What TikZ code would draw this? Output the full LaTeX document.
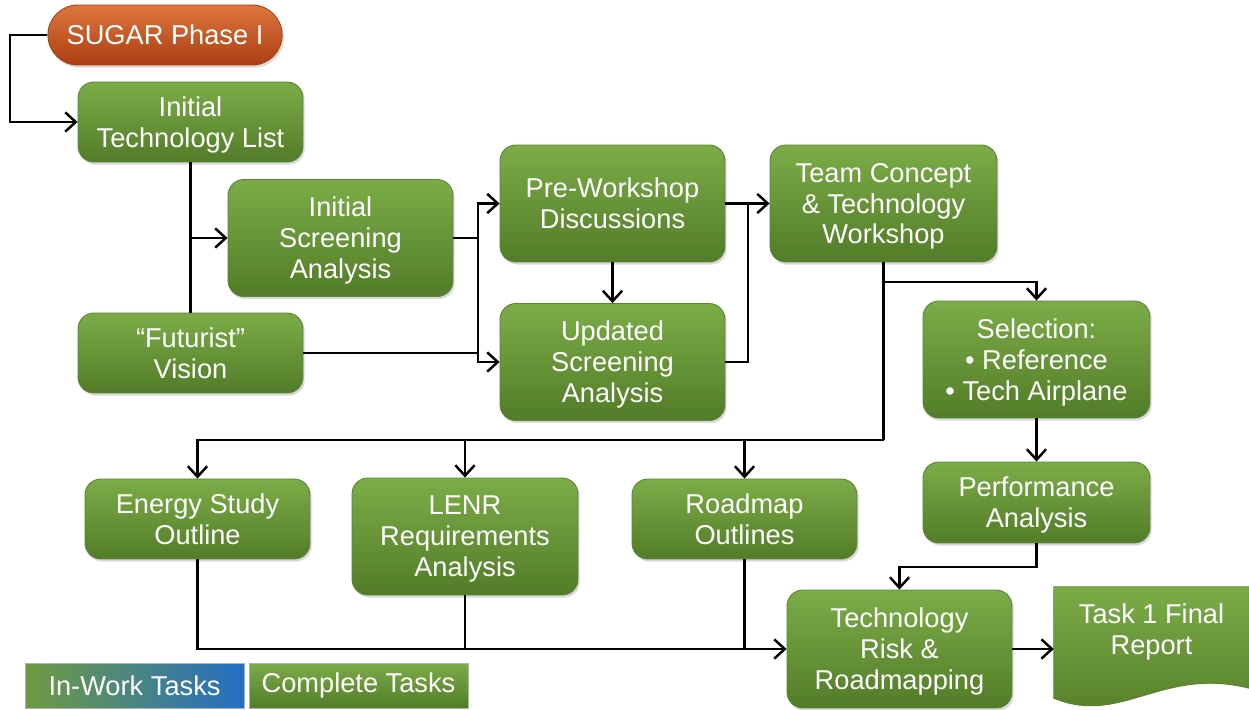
\documentclass[tikz,border=0pt]{standalone}
\usepackage{fontspec}
\setmainfont{Liberation Sans}
\usepackage{tikz}
\usetikzlibrary{arrows.meta,calc,shadows}
\usetikzlibrary{shapes.misc}
\newcommand{\boxFont}{\fontsize{15.5}{17.6}\selectfont}
\definecolor{boxTop}{RGB}{124,172,72}
\definecolor{boxBot}{RGB}{82,124,40}
\definecolor{boxLine}{RGB}{92,130,52}
\definecolor{phaseTop}{RGB}{222,118,62}
\definecolor{phaseBot}{RGB}{170,62,18}
\definecolor{workBlue}{RGB}{36,110,196}
\tikzset{taskFig/.style={x=0.02cm,y=-0.02cm,>={Straight Barb[length=6pt,width=11pt]},
                    line width=1.4pt},
         taskBox/.style={rectangle,rounded corners=9pt,draw=boxLine,line width=0.5pt,
                    top color=boxTop,bottom color=boxBot,text=white,align=center,
                    font=\boxFont,text depth=0pt,minimum width=4.5cm,minimum height=1.6cm,inner sep=2pt,
                    drop shadow={opacity=0.3,shadow xshift=1pt,shadow yshift=-1.5pt}},
         tallBox/.style={taskBox,minimum height=2.34cm},
         phaseBox/.style={rounded rectangle,draw=phaseBot,line width=0.5pt,
                    top color=phaseTop,bottom color=phaseBot,text=white,font=\boxFont,
                    minimum width=4.92cm,minimum height=1.2cm,
                    drop shadow={opacity=0.3,shadow xshift=1pt,shadow yshift=-1.5pt}},
         legendBox/.style={rectangle,draw=gray!60,line width=0.5pt,text=white,font=\boxFont,
                    minimum width=4.38cm,minimum height=0.9cm,inner sep=1pt}}

\begin{document}
\begin{tikzpicture}[taskFig]
    \useasboundingbox (0,0) rectangle (1249,710);
    %START
    \node [phaseBox] (sugar) at (165,35) {SUGAR Phase I};
    %SCREENING
    \node [taskBox] (itl) at (190.5,122) {Initial\\Technology List};
    \node [tallBox] (isa) at (340.5,238) {Initial\\Screening\\Analysis};
    \node [taskBox] (fut) at (190.5,353) {``Futurist''\\Vision};
    \node [tallBox] (pwd) at (612.5,203.5) {Pre-Workshop\\Discussions};
    \node [tallBox] (usa) at (612.5,362) {Updated\\Screening\\Analysis};
    \node [tallBox,minimum width=4.54cm] (tct) at (883.5,203.5) {Team Concept\\\& Technology\\Workshop};
    %SELECTION
    \node [tallBox,minimum width=4.54cm] (sel) at (1036.5,359.5) {Selection:\\\textbullet\ Reference\\\textbullet\ Tech Airplane};
    \node [taskBox,minimum width=4.54cm,minimum height=1.62cm] (perf) at (1036.5,502.5) {Performance\\Analysis};
    %OUTLINES
    \node [taskBox] (esa) at (197.5,519) {Energy Study\\Outline};
    \node [tallBox,minimum width=4.52cm] (lenr) at (465,536.5) {LENR\\Requirements\\Analysis};
    \node [taskBox] (rmo) at (744.5,519) {Roadmap\\Outlines};
    \node [tallBox,minimum height=2.36cm] (trr) at (899.5,649) {Technology\\Risk \&\\Roadmapping};
    %REPORT
    \node [minimum width=3.86cm,minimum height=2.34cm,inner sep=0pt] (report) at (1151.5,646.5) {};
    \fill [black,opacity=0.3,xshift=1pt,yshift=-1.5pt]
        (report.north west) -- (report.north east) -- ($(report.south east)+(0,-18)$)
        .. controls ($(report.south)+(10,-40)$) and ($(report.south)+(-30,20)$) .. ($(report.south west)+(0,-8)$) -- cycle;
    \shade [top color=boxTop,bottom color=boxBot,draw=boxLine,line width=0.5pt]
        (report.north west) -- (report.north east) -- ($(report.south east)+(0,-18)$)
        .. controls ($(report.south)+(10,-40)$) and ($(report.south)+(-30,20)$) .. ($(report.south west)+(0,-8)$) -- cycle;
    \node [text=white,align=center,font=\boxFont,text depth=0pt] (reportText) at (1151.5,629) {Task 1 Final\\Report};
    %LEGEND
    \node [legendBox,shading angle=135,left color=boxTop!90!black,right color=workBlue] (iwt) at (134.5,685.5) {In-Work Tasks};
    \node [legendBox,top color=boxTop,bottom color=boxBot] (ct) at (358.5,685.5) {Complete Tasks};

    %
    \coordinate (jSugar) at (10,35);
    \coordinate (jScreen) at (478,238);
    \coordinate (jWork) at (748,203.5);
    \coordinate (jTeam) at (883.5,282);
    \coordinate (jOut) at (883.5,440);
    \coordinate (jPerf) at (1036.5,567);

    %SCREENING
    \draw [->] (sugar.west) -- (jSugar) |- (itl.west);
    \draw (itl.south) -- (fut.north);
    \draw [->] (itl.south |- isa.west) -- (isa.west);
    \draw (isa.east) -- (jScreen);
    \draw [->] (jScreen) |- (pwd.west);
    \draw [->] (jScreen) |- (usa.west);
    \draw (fut.east) -- (fut.east -| jScreen);
    \draw [->] (pwd.south) -- (usa.north);
    \draw [->] (pwd.east) -- (tct.west);
    \draw (usa.east) -| (jWork);
    %SELECTION
    \draw [->] (tct.south) -- (jTeam) -| (sel.north);
    \draw [->] (sel.south) -- (perf.north);
    \draw [->] (perf.south) -- (jPerf) -| (trr.north);
    %OUTLINES
    \draw (jTeam) -- (jOut);
    \draw [->] (jOut) -| (esa.north);
    \draw [->] (lenr.north |- jOut) -- (lenr.north);
    \draw [->] (rmo.north |- jOut) -- (rmo.north);
    \draw [->] (esa.south) |- (trr.west);
    \draw (lenr.south) -- (lenr.south |- trr.west);
    \draw (rmo.south) -- (rmo.south |- trr.west);
    %REPORT
    \draw [->] (trr.east) -- (trr.east -| report.west);
\end{tikzpicture}
\end{document}
